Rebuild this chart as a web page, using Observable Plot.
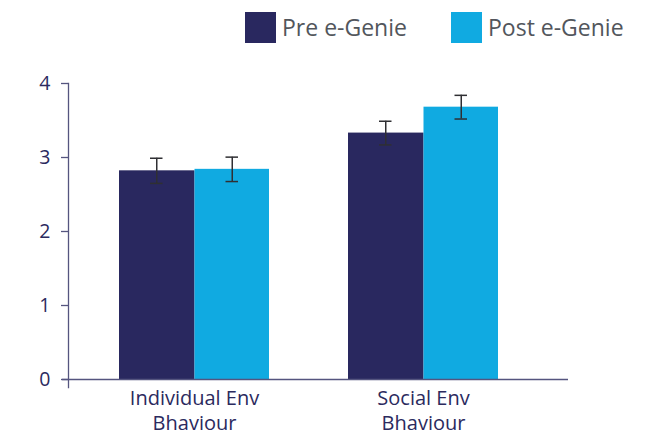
<!DOCTYPE html>
<html>
<head>
<meta charset="utf-8">
<script src="https://cdn.jsdelivr.net/npm/d3@7"></script>
<script src="https://cdn.jsdelivr.net/npm/@observablehq/plot@0.6"></script>
<style>
  body { margin: 0; background: #fff; font-family: "Open Sans", sans-serif; }
  #wrap { position: relative; width: 659px; height: 438px; }
  #legend { position: relative; height: 56px; }
  .sw { position: absolute; top: 12px; width: 31px; height: 31px; }
  .lt { position: absolute; top: 12px; line-height: 31px; font-size: 23px; color: #52565c; white-space: nowrap; }
</style>
</head>
<body>
<div id="wrap">
  <div id="legend"></div>
  <div id="chart"></div>
</div>
<script>
const groups = ["Individual Env\nBhaviour", "Social Env\nBhaviour"];
const series = ["Pre e-Genie", "Post e-Genie"];
const colors = ["#29285f", "#10aae1"];
const preMeans = [2.82, 3.33];
const postMeans = [2.84, 3.68];
const preErr = [0.17, 0.16];
const postErr = [0.165, 0.16];
const yTicks = [0, 1, 2, 3, 4];

const preRows = groups.map((g, i) => ({group: g, value: preMeans[i], err: preErr[i]}));
const postRows = groups.map((g, i) => ({group: g, value: postMeans[i], err: postErr[i]}));

// legend
const legend = document.getElementById("legend");
const legendX = [[245, 282], [451, 488]];
series.forEach((s, i) => {
  const sw = document.createElement("div");
  sw.className = "sw"; sw.style.left = legendX[i][0] + "px"; sw.style.background = colors[i];
  const t = document.createElement("div");
  t.className = "lt"; t.style.left = legendX[i][1] + "px"; t.textContent = s;
  legend.appendChild(sw); legend.appendChild(t);
});

const axisColor = "#55557f";
const errColor = "#2f2f33";
const half = 151 / 2;      // half of the group band
const capInset = 31;
function errMarks(rows, side) {
  const dx = side === "pre" ? -half / 2 : half / 2;
  const il = side === "pre" ? capInset : half + capInset;
  const ir = side === "pre" ? half + capInset : capInset;
  return [
    Plot.ruleX(rows, {x: "group", y1: d => d.value - d.err, y2: d => d.value + d.err, dx, stroke: errColor, strokeWidth: 1.5}),
    Plot.tickY(rows, {x: "group", y: d => d.value - d.err, insetLeft: il, insetRight: ir, stroke: errColor, strokeWidth: 1.5}),
    Plot.tickY(rows, {x: "group", y: d => d.value + d.err, insetLeft: il, insetRight: ir, stroke: errColor, strokeWidth: 1.5})
  ];
}

const chart = Plot.plot({
  width: 659,
  height: 382,
  marginLeft: 68,
  marginRight: 91,
  marginTop: 27,
  marginBottom: 59,
  style: {fontFamily: "Open Sans, sans-serif", background: "transparent", overflow: "visible"},
  x: {domain: groups, paddingInner: 0.343, paddingOuter: 0.2586, align: 0.42, axis: null},
  y: {domain: [0, 4], axis: null},
  marks: [
    Plot.barY(preRows, {x: "group", y: "value", fill: colors[0], insetRight: half - 1}),
    Plot.barY(postRows, {x: "group", y: "value", fill: colors[1], insetLeft: half}),
    ...errMarks(preRows, "pre"),
    ...errMarks(postRows, "post"),
    Plot.frame({anchor: "left", stroke: axisColor, strokeWidth: 1.3, insetBottom: -8}),
    Plot.ruleY([0], {stroke: axisColor, strokeWidth: 1.3, insetLeft: -6}),
    Plot.axisY({ticks: yTicks, tickFormat: d => String(d), tickSize: 7, tickPadding: 11, fontSize: 19.5, color: "#2b2a5e", stroke: axisColor, strokeWidth: 1.3, label: null}),
    Plot.axisX({anchor: "bottom", tickSize: 0, tickPadding: 7, fontSize: 20, color: "#2b2a5e", lineHeight: 1.27, label: null})
  ]
});
document.getElementById("chart").appendChild(chart);
</script>
</body>
</html>
